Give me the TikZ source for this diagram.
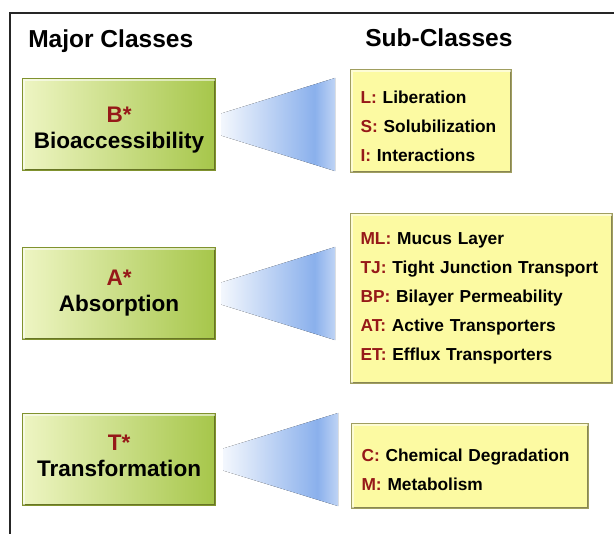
\documentclass[tikz,border=0pt]{standalone}
\usepackage{fontspec}
\setmainfont{Liberation Sans}
\usetikzlibrary{positioning}
\definecolor{lblred}{RGB}{150,25,25}
\definecolor{grnpale}{RGB}{238,245,195}
\definecolor{grnmid}{RGB}{166,198,74}
\definecolor{grnedge}{RGB}{128,146,46}
\definecolor{ylwfill}{RGB}{252,250,162}
\definecolor{ylwedge}{RGB}{160,158,96}
\definecolor{funblue}{RGB}{138,176,236}
\pgfdeclarehorizontalshading{funnelshade}{100bp}{color(0bp)=(funblue!10!white); color(25bp)=(funblue!10!white); color(66bp)=(funblue); color(75bp)=(funblue!55!white); color(100bp)=(funblue!55!white)}
\newcommand{\subtag}[1]{\textcolor{lblred}{#1}}

\begin{document}
\begin{tikzpicture}[
  x=0.75pt, y=-0.75pt,
  head/.style={anchor=base west, inner sep=0pt, font=\fontsize{18.4}{22}\selectfont\bfseries},
  bevel/.style={path picture={
    \draw[#1, line width=3pt] (path picture bounding box.north east) -- (path picture bounding box.south east) -- (path picture bounding box.south west);
    \draw[white, opacity=0.55, line width=3pt] (path picture bounding box.south west) -- (path picture bounding box.north west) -- (path picture bounding box.north east);}},
  major/.style={rectangle, draw=grnedge, line width=0.8pt, left color=grnpale, right color=grnmid, bevel=grnedge!80!black, anchor=north west, minimum width=144.75pt, minimum height=69pt, align=center, font=\fontsize{16.9}{19.5}\selectfont\bfseries},
  sub/.style={rectangle, draw=ylwedge, line width=0.8pt, fill=ylwfill, bevel=ylwedge!85!black, anchor=north west, inner xsep=7.5pt, align=left, font=\fontsize{13}{21.75}\selectfont\bfseries},
  funnel/.style={shading=funnelshade}
]
\useasboundingbox (0,0) rectangle (614,534);
\draw[line width=0.9pt, black!85] (614,13) -- (10,13) -- (10,534);

\node[head] (hmaj) at (28,48) {Major Classes};
\node[head] (hsub) at (365,47) {Sub-Classes};

\node[major, text height=36pt, text depth=0pt] (b) at (22,78) {\textcolor{lblred}{B*}\\Bioaccessibility};
\node[major] (a) at (22,247) {\textcolor{lblred}{A*}\\Absorption};
\node[major, text depth=6pt] (t) at (22,413) {\textcolor{lblred}{T*}\\Transformation};

\node[sub, text width=105.75pt, minimum height=77.25pt, text height=17pt] (sb) at (350,69) {\subtag{L:} Liberation\\\subtag{S:} Solubilization\\\subtag{I:} Interactions};
\node[sub, text width=181.5pt, minimum height=127.5pt] (sa) at (350,213) {\subtag{ML:} Mucus Layer\\\subtag{TJ:} Tight Junction Transport\\\subtag{BP:} Bilayer Permeability\\\subtag{AT:} Active Transporters\\\subtag{ET:} Efflux Transporters};
\node[sub, text width=162.75pt, minimum height=63.75pt, text height=15.5pt] (st) at (351,423) {\subtag{C:} Chemical Degradation\\\subtag{M:} Metabolism};

\fill[funnel] ([xshift=3.75pt,yshift=8.25pt]b.east) -- ([xshift=-11.25pt]sb.west |- b.north) -- ([xshift=-11.25pt]sb.west |- b.south) -- ([xshift=3.75pt,yshift=-8.25pt]b.east) -- cycle;
\fill[funnel] ([xshift=3.75pt,yshift=8.25pt]a.east) -- ([xshift=-11.25pt]sa.west |- a.north) -- ([xshift=-11.25pt]sa.west |- a.south) -- ([xshift=3.75pt,yshift=-8.25pt]a.east) -- cycle;
\fill[funnel] ([xshift=5.25pt,yshift=8.25pt]t.east) -- ([xshift=-9.75pt]st.west |- t.north) -- ([xshift=-9.75pt]st.west |- t.south) -- ([xshift=5.25pt,yshift=-8.25pt]t.east) -- cycle;
\end{tikzpicture}
\end{document}
